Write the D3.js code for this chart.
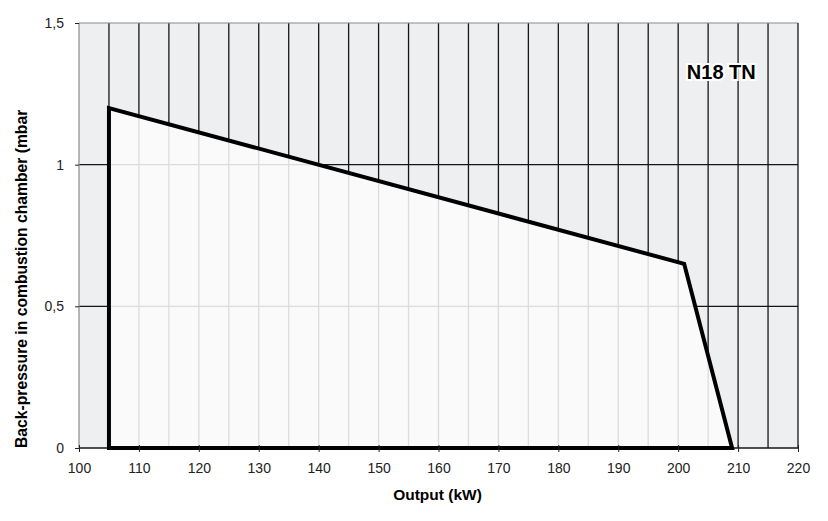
<!DOCTYPE html>
<html>
<head>
<meta charset="utf-8">
<script src="https://cdn.jsdelivr.net/npm/d3@7"></script>
<style>
  body { margin: 0; background: #fff; }
  svg text { font-family: "Liberation Sans", Arial, sans-serif; }
</style>
</head>
<body>
<div id="chart"></div>
<script>
// working range of the burner
const outputKW = [105, 105, 201, 209];
const backPressure = [0, 1.2, 0.65, 0];
const xTicks = [100, 110, 120, 130, 140, 150, 160, 170, 180, 190, 200, 210, 220];
const yTicks = [0, 0.5, 1, 1.5];
const yTickLabels = ['0', '0,5', '1', '1,5'];
const gridX = d3.range(105, 220, 5);
const gridY = [0.5, 1];
const modelName = 'N18 TN';

const [svgWidth, svgHeight] = [828, 521];
const margin = { left: 79, right: 30, top: 23, bottom: 73 };
const [width, height] = [svgWidth - margin.left - margin.right, svgHeight - margin.top - margin.bottom];

function translate(x, y) {
    return 'translate(' + x + ',' + y + ')';
}

const svg = d3.select('#chart').append('svg')
    .attr('width', svgWidth)
    .attr('height', svgHeight);

const plot = svg.append('g').attr('transform', translate(margin.left, margin.top));

const x = d3.scaleLinear().domain([100, 220]).range([0, width]);
const y = d3.scaleLinear().domain([0, 1.5]).range([height, 0]);

const pts = outputKW.map((v, i) => [x(v), y(backPressure[i])]);

// outside area
plot.append('rect')
    .attr('width', width).attr('height', height)
    .attr('fill', '#eeeff1');

function drawGrid(g, color, w) {
    g.selectAll('line.v').data(gridX).join('line')
        .attr('class', 'v')
        .attr('x1', d => x(d)).attr('x2', d => x(d))
        .attr('y1', 0).attr('y2', height)
        .attr('stroke', color).attr('stroke-width', w);
    g.selectAll('line.h').data(gridY).join('line')
        .attr('class', 'h')
        .attr('x1', 0).attr('x2', width)
        .attr('y1', d => y(d)).attr('y2', d => y(d))
        .attr('stroke', color).attr('stroke-width', w);
}

drawGrid(plot.append('g'), '#161616', 1.3);

// inside the working field
svg.append('defs').append('clipPath').attr('id', 'field')
    .append('polygon').attr('points', pts.join(' '));

plot.append('polygon')
    .attr('points', pts.join(' '))
    .attr('fill', '#fafafa');

drawGrid(plot.append('g').attr('clip-path', 'url(#field)'), '#dcdcdc', 1.3);

// frame
plot.append('line').attr('x1', 0).attr('x2', width).attr('y1', 0).attr('y2', 0)
    .attr('stroke', '#8a8a8a').attr('stroke-width', 1.2);
plot.append('line').attr('x1', 0).attr('x2', 0).attr('y1', 0).attr('y2', height)
    .attr('stroke', '#8a8a8a').attr('stroke-width', 1.2);
plot.append('line').attr('x1', width).attr('x2', width).attr('y1', 0).attr('y2', height)
    .attr('stroke', '#161616').attr('stroke-width', 1.3);
plot.append('line').attr('x1', 0).attr('x2', width).attr('y1', height).attr('y2', height)
    .attr('stroke', '#161616').attr('stroke-width', 1.3);

// curve outline
plot.append('polygon')
    .attr('points', pts.join(' '))
    .attr('fill', 'none')
    .attr('stroke', '#000')
    .attr('stroke-width', 4)
    .attr('stroke-linejoin', 'miter');

// axes
const xAxis = plot.append('g').attr('transform', translate(0, height))
    .call(d3.axisBottom(x).tickValues(xTicks).tickSize(4).tickPadding(11).tickFormat(d3.format('d')));
xAxis.select('.domain').remove();
xAxis.selectAll('.tick line').attr('y1', -3).attr('stroke', '#222');
xAxis.selectAll('text').attr('font-size', 14).attr('fill', '#222');

const yAxis = plot.append('g')
    .call(d3.axisLeft(y).tickValues(yTicks).tickSize(4).tickPadding(11)
        .tickFormat((d, i) => yTickLabels[i]));
yAxis.select('.domain').remove();
yAxis.selectAll('.tick line').attr('stroke', '#222');
yAxis.selectAll('text').attr('font-size', 14).attr('fill', '#222');

// labels
svg.append('text')
    .attr('x', margin.left + width / 2 - 1)
    .attr('y', 500)
    .attr('text-anchor', 'middle')
    .attr('font-size', 15.5).attr('font-weight', 'bold')
    .text('Output (kW)');

svg.append('text')
    .attr('transform', translate(27, margin.top + height) + ' rotate(-90)')
    .attr('font-size', 15.7).attr('font-weight', 'bold')
    .text('Back-pressure in combustion chamber (mbar');

plot.append('text')
    .attr('x', x(207.2))
    .attr('y', 79 - margin.top)
    .attr('text-anchor', 'middle')
    .attr('font-size', 20).attr('font-weight', 'bold')
    .attr('stroke', '#fff').attr('stroke-width', 4)
    .attr('paint-order', 'stroke')
    .text(modelName);
</script>
</body>
</html>
